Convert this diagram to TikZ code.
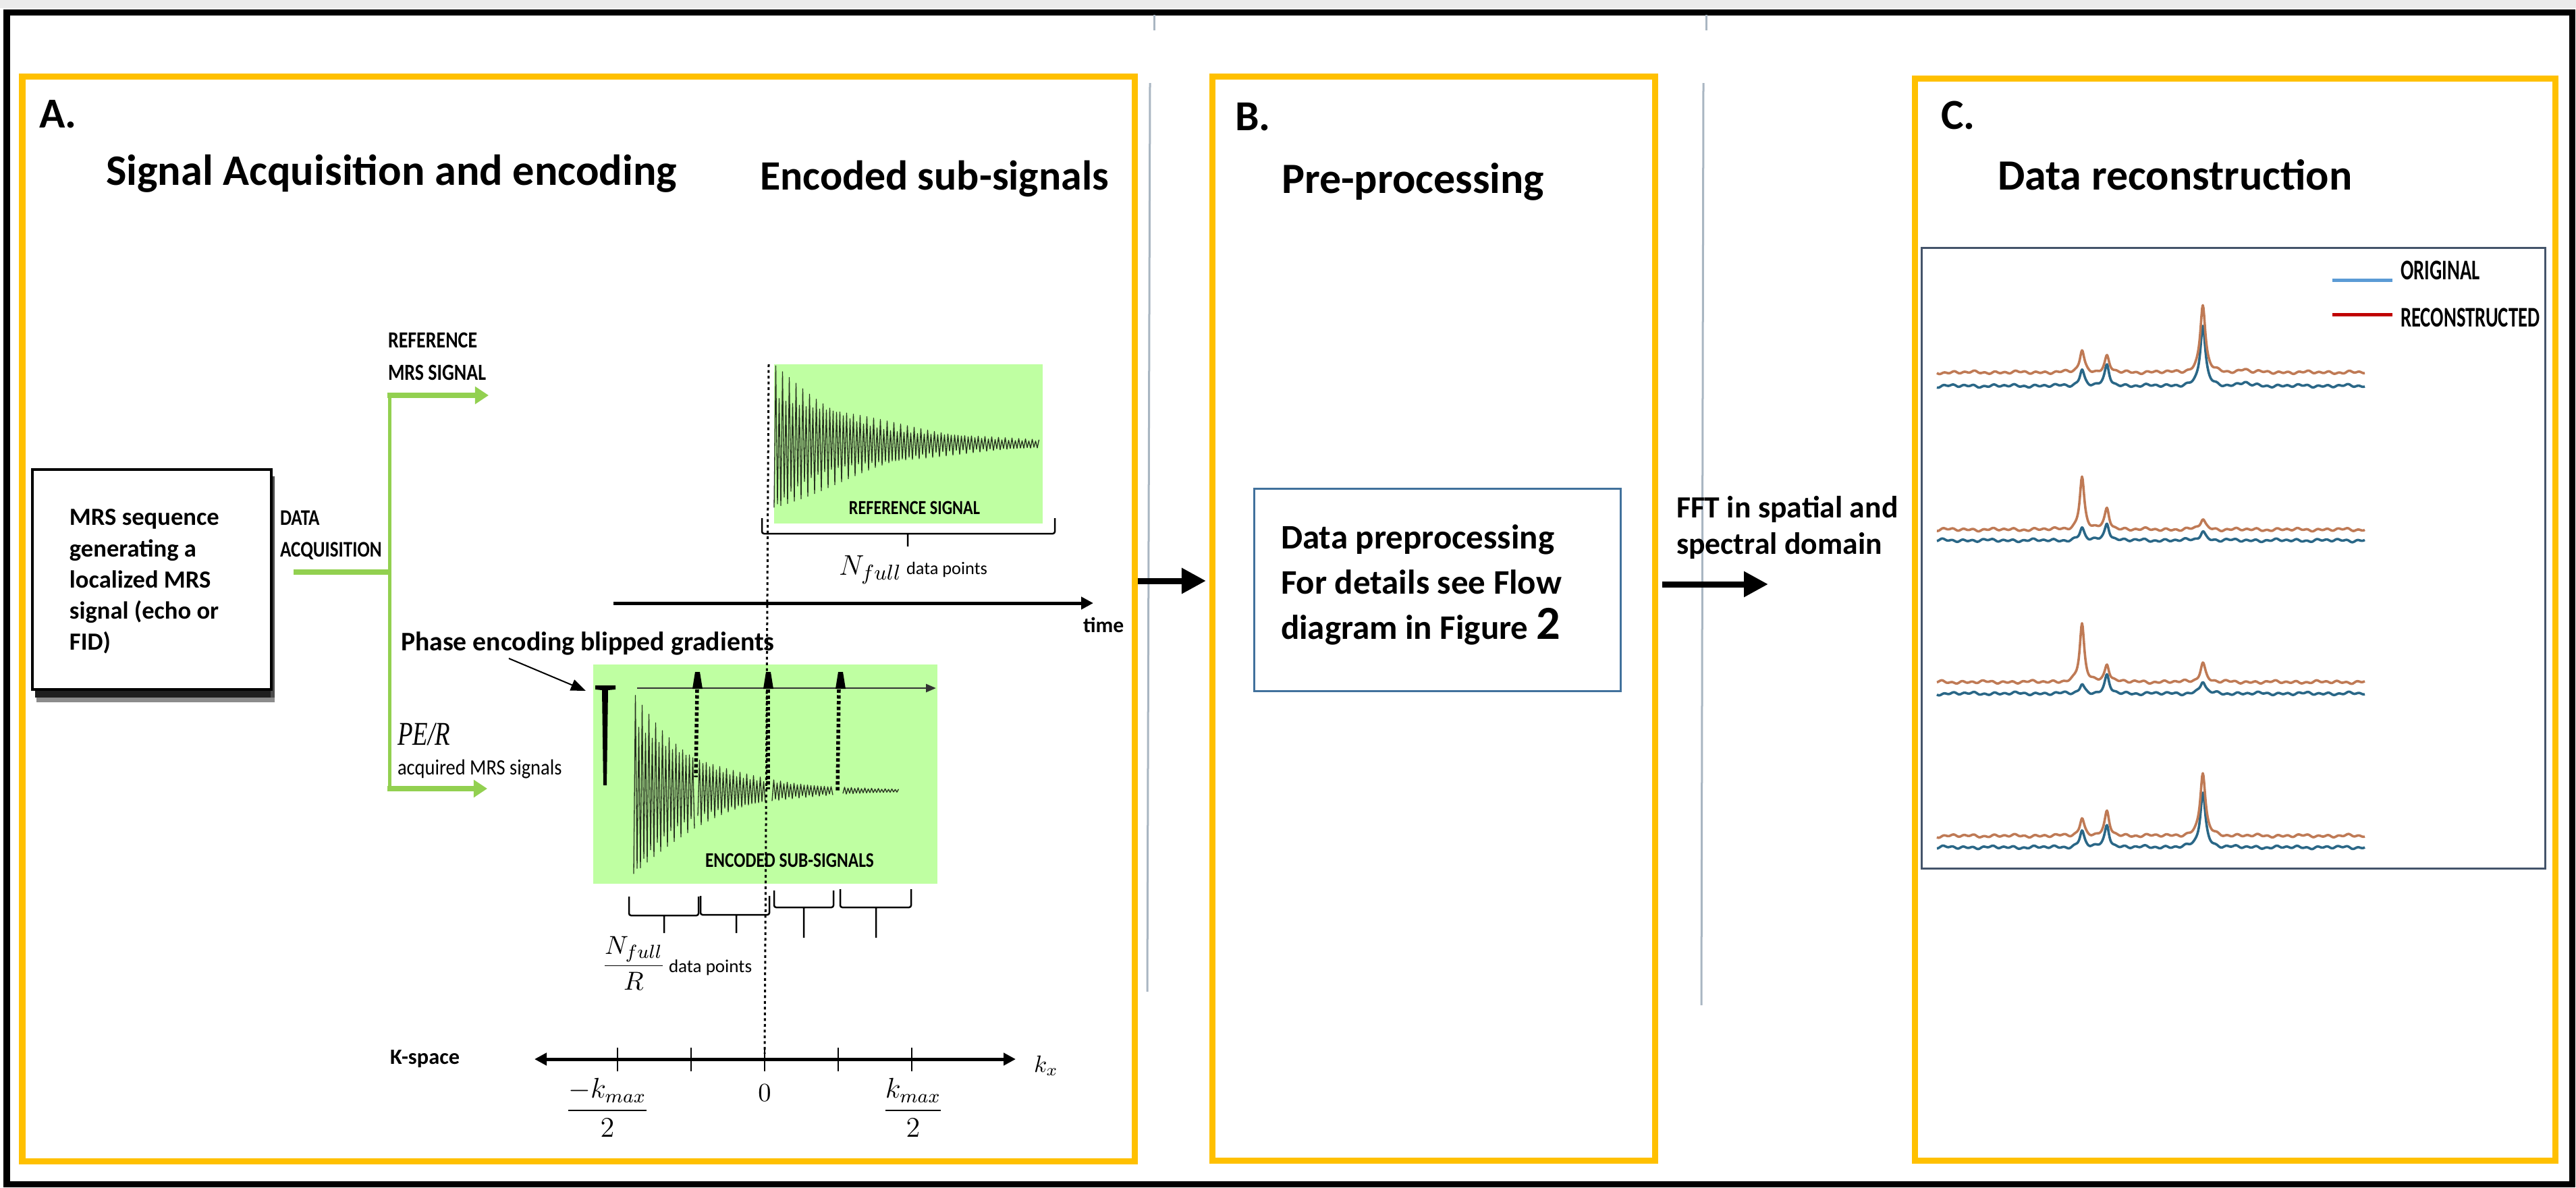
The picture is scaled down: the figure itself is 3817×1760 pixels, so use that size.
\documentclass[tikz,border=0pt]{standalone}
\usepackage{amsmath}
\usepackage{fontspec}
\setmainfont{Carlito}
\newfontfamily\cfA[FakeStretch=0.82]{Carlito}
\newfontfamily\cfB[FakeStretch=0.68]{Carlito}
\newfontfamily\cfC[FakeStretch=0.88]{Carlito}
\newfontfamily\pefont[FakeStretch=0.75]{Liberation Serif}
\usetikzlibrary{arrows.meta}
\definecolor{gold}{HTML}{FFC000}
\definecolor{lgreen}{HTML}{92D050}
\definecolor{boxgreen}{HTML}{BFFFA2}
\definecolor{gline}{HTML}{A9B6C2}
\definecolor{dpblue}{HTML}{41719C}
\definecolor{plotframe}{HTML}{44546A}
\definecolor{specor}{HTML}{BF7A55}
\definecolor{specbl}{HTML}{2A6787}
\definecolor{legblue}{HTML}{5B9BD5}
\definecolor{legred}{HTML}{C00000}
\definecolor{sigdark}{HTML}{26301F}
\newcommand{\fsz}[1]{\fontsize{#1}{1.2\dimexpr #1pt\relax}\selectfont}
\newcommand{\brc}[6]{\draw[brace] (#1,#3) -- (#1,#4) -- (#2,#4) -- (#2,#3) (#5,#4) -- (#5,#6);}
\newcommand{\spec}[7]{\draw[#1, line width=0.036cm, line join=round] plot[domain=0:634, samples=635] ({2870+\x},{#2-#3/(1+((\x-215)/4)*((\x-215)/4))-#4/(1+((\x-252)/4)*((\x-252)/4))-#5/(1+((\x-394)/4.5)*((\x-394)/4.5))-#7/(1+((\x-456)/6)*((\x-456)/6))+1.2*sin(24*\x+#6)+0.9*sin(11*\x+2*#6)+0.7*sin(5*\x+3*#6)});}
\tikzset{
  txt/.style={inner sep=0pt, outer sep=0pt, anchor=base west},
  ctxt/.style={inner sep=0pt, outer sep=0pt, anchor=base},
  mtxt/.style={inner sep=0pt, outer sep=0pt, anchor=center},
  panel/.style={draw=gold, line width=0.09cm},
  bigarrow/.style={line width=0.09cm, -{Triangle[length=0.36cm,width=0.36cm]}},
  grnline/.style={draw=lgreen, line width=0.08cm},
  grnarrow/.style={draw=lgreen, line width=0.08cm, -{Triangle[length=0.2cm,width=0.25cm]}},
  axisarrow/.style={line width=0.05cm, -{Triangle[length=0.18cm,width=0.18cm]}},
  kaxis/.style={line width=0.05cm, {Triangle[length=0.18cm,width=0.18cm]}-{Triangle[length=0.18cm,width=0.18cm]}},
  ticks/.style={line width=0.025cm},
  brace/.style={line width=0.025cm, rounded corners=0.03cm},
  sig/.style={draw=sigdark, line width=0.013cm, line join=round},
  dotv/.style={line width=0.03cm, dash pattern=on 0.04cm off 0.045cm},
  thickdash/.style={line width=0.055cm, dash pattern=on 0.05cm off 0.035cm},
  pointer/.style={line width=0.02cm, -{Triangle[length=0.22cm,width=0.17cm]}},
  sepline/.style={draw=gline, line width=0.03cm},
}
\begin{document}
\begin{tikzpicture}[x=0.01cm,y=-0.01cm]
\useasboundingbox (0,0) rectangle (3817,1760);
\fill[white] (0,0) rectangle (3817,1760);
\fill[black!8] (0,0) rectangle (3817,12);
\draw[black, line width=0.09cm] (10,18) rectangle (3811,1755);

% separators
\draw[sepline] (1710,22) -- (1710,45);
\draw[sepline] (2528,22) -- (2528,45);
\draw[sepline] (1704,123) -- (1700,1470);
\draw[sepline] (2524,123) -- (2521,1490);

% arrows between panels
\coordinate (ab1) at (1677,861); \coordinate (ab2) at (1787,861);
\draw[bigarrow] (ab1) -- (ab2);
\coordinate (bc1) at (2463,866); \coordinate (bc2) at (2620,866);
\draw[bigarrow] (bc1) -- (bc2);

% panels
\draw[panel] (33,113) rectangle (1681,1721);
\draw[panel] (1796,113) rectangle (2452,1720);
\draw[panel] (2837,116) rectangle (3786,1720);

% ---------------- Panel A ----------------
\node[txt, font=\fsz{18}\bfseries] (tA) at (58,189) {A.};
\node[txt, font=\fsz{18.3}\bfseries] (tSig) at (157,274) {Signal Acquisition and encoding};
\node[txt, font=\fsz{17.6}\bfseries] (tEnc) at (1126,281) {Encoded sub-signals};

% MRS box with shadow
\fill[black!45] (54,1030) rectangle (407,1041);
\fill[black!88] (52,1021) rectangle (406,1034);
\fill[black!70] (401,706) rectangle (407,1034);
\draw[black, line width=0.035cm, fill=white] (48,696) rectangle (402,1022);
\node[txt, font=\fsz{10.4}\bfseries] (m1) at (103,778) {MRS sequence};
\node[txt, font=\fsz{10.4}\bfseries] (m2) at (103,825) {generating a};
\node[txt, font=\fsz{10.4}\bfseries] (m3) at (103,871) {localized MRS};
\node[txt, font=\fsz{10.4}\bfseries] (m4) at (103,917) {signal (echo or};
\node[txt, font=\fsz{10.4}\bfseries] (m5) at (103,963) {FID)};

\node[txt, font=\cfA\fsz{9.4}\bfseries] (da1) at (415,778) {DATA};
\node[txt, font=\cfA\fsz{9.4}\bfseries] (da2) at (415,825) {ACQUISITION};

% green branching arrows
\coordinate (gIn) at (435,848); \coordinate (gJ) at (579,848);
\coordinate (gTop) at (577,586); \coordinate (gBot) at (577,1169);
\coordinate (gTopS) at (574,586); \coordinate (gBotS) at (574,1169);
\coordinate (gTopE) at (724,586); \coordinate (gBotE) at (722,1169);
\draw[grnline] (gIn) -- (gJ);
\draw[draw=lgreen, line width=0.05cm] (gTop) -- (gBot);
\draw[grnarrow] (gTopS) -- (gTopE);
\draw[grnarrow] (gBotS) -- (gBotE);

\node[txt, font=\cfA\fsz{9.7}\bfseries] (r1) at (575,515) {REFERENCE};
\node[txt, font=\cfA\fsz{9.7}\bfseries] (r2) at (575,563) {MRS SIGNAL};

% reference signal
\fill[boxgreen] (1147,540) rectangle (1545,776);
\draw[sig] plot[domain=0:392.5, samples=158] ({1147+\x},{658+118*exp(-\x/135)*cos(72*mod(\x,5))*(0.8+0.2*sin(37*mod(\x,9.73)))});
\node[ctxt, font=\cfA\fsz{8.4}\bfseries] (tRS) at (1355,762) {REFERENCE SIGNAL};
\brc{1129}{1563}{768}{791}{1345}{810}
\node[txt, font=\fsz{13.2}] (tNf) at (1243,852) {$N_{full}$};
\node[txt, font=\fsz{7.5}] (tNfdp) at (1343,851) {data points};

% time axis
\coordinate (t1) at (909,894); \coordinate (t2) at (1620,894);
\draw[axisarrow] (t1) -- (t2);
\node[txt, font=\fsz{9}\bfseries] (tTime) at (1605,937) {time};

% encoded sub-signals
\node[txt, font=\fsz{11.3}\bfseries] (tPh) at (594,964) {Phase encoding blipped gradients};
\coordinate (p1) at (754,976); \coordinate (p2) at (868,1024);
\draw[pointer] (p1) -- (p2);
\node[txt, font=\pefont\itshape\fsz{14}] (tPE) at (589,1104) {PE/R};
\node[txt, font=\cfC\fsz{9.2}] (tAcq) at (589,1148) {acquired MRS signals};

\fill[boxgreen] (879,985) rectangle (1389,1310);
\coordinate (gr1) at (944,1020); \coordinate (gr2) at (1387,1020);
\draw[draw=black!80, line width=0.028cm, -{Triangle[length=0.15cm,width=0.12cm]}] (gr1) -- (gr2);
\foreach \c in {1033,1138,1245} {
  \fill[black] (\c-7,1021) -- (\c-3,996) -- (\c+4,996) -- (\c+8,1021) -- cycle;
}
\fill[black] (882,1016) -- (912,1016) -- (912,1022) -- (901,1023) -- (899,1164) -- (894,1164) -- (892,1023) -- (882,1022) -- cycle;
\foreach \a/\b/\n in {0/90/37, 95/195/41, 205/295/37, 310/392.5/34} {
  \draw[sig] plot[domain=\a:\b, samples=\n] ({939+\x},{1172+145*exp(-\x/95)*cos(72*mod(\x,5))*(0.85+0.15*sin(37*mod(\x,9.73)))});
}
\draw[thickdash] (1033,1022) -- (1031,1152);
\draw[thickdash] (1138,1022) -- (1138,1170);
\draw[thickdash] (1243,1022) -- (1241,1173);
\node[ctxt, font=\cfA\fsz{8.8}\bfseries] (tES) at (1170,1285) {ENCODED SUB-SIGNALS};

\brc{932}{1035}{1329}{1357}{984}{1383}
\brc{1038}{1140}{1328}{1356}{1091}{1383}
\brc{1147}{1235}{1320}{1345}{1191}{1390}
\brc{1245}{1350}{1318}{1345}{1298}{1390}

\node[mtxt, font=\fsz{11}] (tFrac) at (939,1428) {$\dfrac{N_{full}}{R}$};
\node[txt, font=\fsz{7.7}] (tFdp) at (991,1441) {data points};

% dotted time-zero line
\coordinate (d1) at (1139,540); \coordinate (d2) at (1133,1562);
\draw[dotv] (d1) -- (d2);

% k-space axis
\node[txt, font=\fsz{9.2}\bfseries] (tK) at (578,1577) {K-space};
\coordinate (k1) at (792,1570); \coordinate (k2) at (1505,1570);
\draw[kaxis] (k1) -- (k2);
\foreach \t in {915,1024,1133,1242,1351} { \draw[ticks] (\t,1553) -- (\t,1588); }
\node[mtxt, font=\fsz{10}] (tkx) at (1550,1580) {$k_x$};
\node[mtxt, font=\fsz{11.5}] (tkm) at (900,1642) {$\dfrac{-k_{max}}{2}$};
\node[mtxt, font=\fsz{11}] (t0) at (1133,1620) {$0$};
\node[mtxt, font=\fsz{11.5}] (tkp) at (1353,1642) {$\dfrac{k_{max}}{2}$};

% ---------------- Panel B ----------------
\node[txt, font=\fsz{18}\bfseries] (tB) at (1830,193) {B.};
\node[txt, font=\fsz{18.2}\bfseries] (tPre) at (1899,286) {Pre-processing};
\draw[dpblue, line width=0.03cm] (1858,724) rectangle (2401,1024);
\node[txt, font=\fsz{14.5}\bfseries] (dp1) at (1898,813) {Data preprocessing};
\node[txt, font=\fsz{14.5}\bfseries] (dp2) at (1898,880) {For details see Flow};
\node[txt, font=\fsz{14.5}\bfseries] (dp3) at (1898,947) {diagram in Figure {\fsz{20}2}};
\node[txt, font=\fsz{13}\bfseries] (fft1) at (2484,767) {FFT in spatial and};
\node[txt, font=\fsz{13}\bfseries] (fft2) at (2484,821) {spectral domain};

% ---------------- Panel C ----------------
\node[txt, font=\fsz{18}\bfseries] (tC) at (2876,191) {C.};
\node[txt, font=\fsz{18.2}\bfseries] (tDR) at (2960,281) {Data reconstruction};
\draw[plotframe, line width=0.03cm] (2847,367) rectangle (3771,1287);
\coordinate (lb1) at (3456,415); \coordinate (lb2) at (3545,415);
\coordinate (lr1) at (3456,466); \coordinate (lr2) at (3545,466);
\draw[legblue, line width=0.05cm] (lb1) -- (lb2);
\draw[legred, line width=0.05cm] (lr1) -- (lr2);
\node[txt, font=\cfB\fsz{12}\bfseries] (lgO) at (3557,414) {ORIGINAL};
\node[txt, font=\cfB\fsz{12}\bfseries] (lgR) at (3557,484) {RECONSTRUCTED};

\spec{specbl}{572}{24}{30}{90}{40}{5}
\spec{specor}{552}{33}{23}{101}{10}{5}
\spec{specbl}{801}{18}{26}{14}{80}{0}
\spec{specor}{785}{78}{31}{16}{55}{0}
\spec{specbl}{1028}{14}{26}{18}{20}{0}
\spec{specor}{1011}{86}{27}{29}{95}{0}
\spec{specbl}{1256}{24}{33}{82}{65}{0}
\spec{specor}{1239}{26}{35}{94}{30}{0}
\end{tikzpicture}
\end{document}
